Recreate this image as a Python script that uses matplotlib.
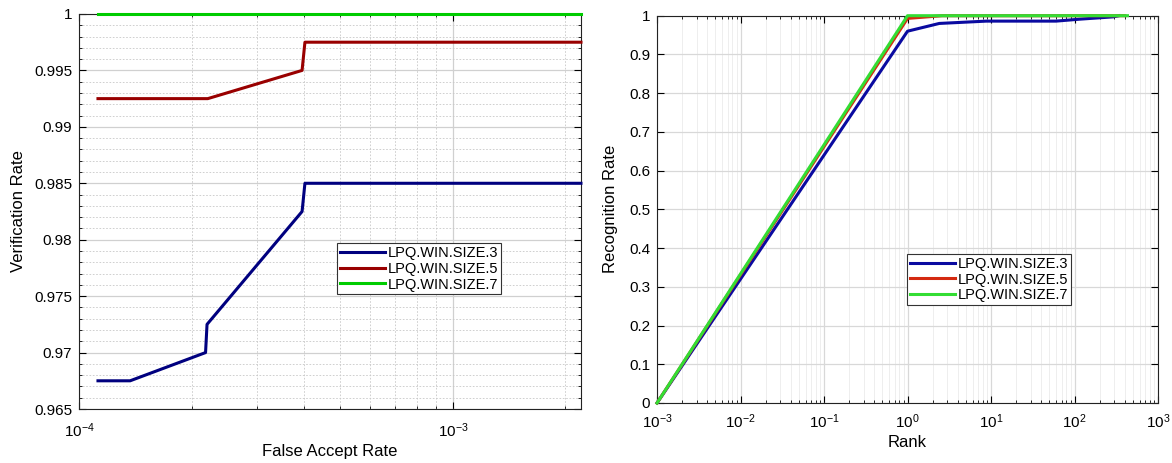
import matplotlib
matplotlib.use("Agg")
import matplotlib.pyplot as plt
from matplotlib.ticker import LogLocator, MultipleLocator, NullFormatter

plt.rcParams['font.family'] = ['Liberation Sans', 'DejaVu Sans']

labels = ["LPQ.WIN.SIZE.3", "LPQ.WIN.SIZE.5", "LPQ.WIN.SIZE.7"]

# Left: verification rate vs false accept rate
far_3 = [1.124e-4, 1.37e-4, 2.18e-4, 2.2e-4, 3.95e-4, 4.02e-4, 2.2e-3]
vr_3 = [0.9675, 0.9675, 0.970, 0.9725, 0.9825, 0.985, 0.985]
far_5 = [1.124e-4, 2.21e-4, 3.95e-4, 4.02e-4, 2.2e-3]
vr_5 = [0.9925, 0.9925, 0.995, 0.9975, 0.9975]
far_7 = [1.124e-4, 2.2e-3]
vr_7 = [1.0, 1.0]

# Right: recognition rate vs rank
rank_3 = [1e-3, 1.0, 2.4, 8.8, 60.0, 115.0, 290.0, 340.0]
rr_3 = [0.0, 0.96, 0.980, 0.986, 0.986, 0.991, 0.997, 1.0]
rank_5 = [1e-3, 1.0, 2.6, 400.0]
rr_5 = [0.0, 0.993, 1.0, 1.0]
rank_7 = [1e-3, 1.0, 430.0]
rr_7 = [0.0, 1.0, 1.0]

left_colors = ["#00007f", "#990000", "#00cc00"]
right_colors = ["#0a0aa0", "#d42a10", "#33dd33"]

fig = plt.figure(figsize=(11.72, 4.63), dpi=100)
ax1 = fig.add_axes([0.0674, 0.1166, 0.4283, 0.8532])
ax2 = fig.add_axes([0.5606, 0.1296, 0.4275, 0.8365])

for x, y, c, l in zip([far_3, far_5, far_7], [vr_3, vr_5, vr_7], left_colors, labels):
    ax1.plot(x, y, color=c, lw=2.2, label=l, clip_on=False, zorder=3)
ax1.set_xscale('log')
ax1.set_xlim(1e-4, 2.2e-3)
ax1.set_ylim(0.965, 1.0)
ax1.yaxis.set_minor_locator(MultipleLocator(0.001))
ax1.set_yticks([0.965, 0.97, 0.975, 0.98, 0.985, 0.99, 0.995, 1.0])
ax1.set_yticklabels(["0.965", "0.97", "0.975", "0.98", "0.985", "0.99", "0.995", "1"])
ax1.xaxis.set_major_locator(LogLocator(base=10, numticks=10))
ax1.xaxis.set_minor_locator(LogLocator(base=10, subs=range(2, 10), numticks=20))
ax1.xaxis.set_minor_formatter(NullFormatter())
ax1.grid(True, which='major', color='#d0d0d0', lw=0.9, ls='-')
ax1.grid(True, which='minor', color='#c8c8c8', lw=0.6, ls=(0, (2, 2)))
ax1.set_xlabel("False Accept Rate", fontsize=12, labelpad=3)
ax1.set_ylabel("Verification Rate", fontsize=12, labelpad=6)
leg1 = ax1.legend(loc='upper left', bbox_to_anchor=(0.514, 0.42), borderaxespad=0,
                  fontsize=10.5, fancybox=False, edgecolor='#333333', framealpha=1,
                  handlelength=3.1, handletextpad=0.2, borderpad=0.2, labelspacing=0.12)
leg1.get_frame().set_linewidth(0.8)

for x, y, c, l in zip([rank_3, rank_5, rank_7], [rr_3, rr_5, rr_7], right_colors, labels):
    ax2.plot(x, y, color=c, lw=2.2, label=l, clip_on=False, zorder=3)
ax2.set_xscale('log')
ax2.set_xlim(1e-3, 1e3)
ax2.set_ylim(0, 1)
ax2.set_yticks([i / 10 for i in range(11)])
ax2.set_yticklabels(["0", "0.1", "0.2", "0.3", "0.4", "0.5", "0.6", "0.7", "0.8", "0.9", "1"])
ax2.xaxis.set_major_locator(LogLocator(base=10, numticks=10))
ax2.xaxis.set_minor_locator(LogLocator(base=10, subs=range(2, 10), numticks=20))
ax2.xaxis.set_minor_formatter(NullFormatter())
ax2.grid(True, which='major', color='#d8d8d8', lw=0.9, ls='-')
ax2.grid(True, which='minor', axis='x', color='#ebebeb', lw=0.6, ls='-')
ax2.set_xlabel("Rank", fontsize=12, labelpad=3)
ax2.set_ylabel("Recognition Rate", fontsize=12, labelpad=8)
leg2 = ax2.legend(loc='upper left', bbox_to_anchor=(0.499, 0.385), borderaxespad=0,
                  fontsize=10.5, fancybox=False, edgecolor='#333333', framealpha=1,
                  handlelength=3.1, handletextpad=0.2, borderpad=0.2, labelspacing=0.12)
leg2.get_frame().set_linewidth(0.8)

for ax in (ax1, ax2):
    ax.tick_params(which='both', direction='in', top=True, right=True, labelsize=11)
    ax.tick_params(which='major', length=5)
    ax.tick_params(which='minor', length=2.5)
    ax.tick_params(axis='y', pad=5)
ax1.tick_params(axis='x', pad=9)
ax2.tick_params(axis='x', pad=7)
for ax in (ax1, ax2):
    for s in ax.spines.values():
        s.set_color('#222222')
        s.set_linewidth(0.8)
    ax.set_axisbelow(True)

fig.savefig("out.png", dpi=100)
